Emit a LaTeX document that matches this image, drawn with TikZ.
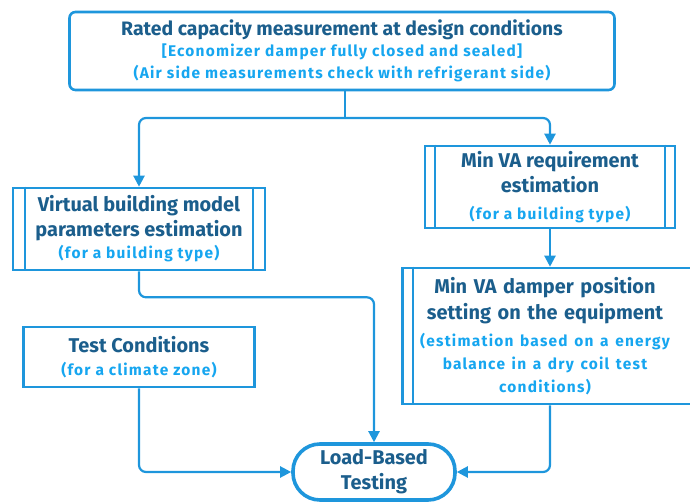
\documentclass[tikz,border=0pt]{standalone}
\usepackage{fontspec}
\setmainfont{Fira Sans}
\usetikzlibrary{arrows.meta}

\definecolor{flowline}{HTML}{1E96DC}
\definecolor{flowdark}{HTML}{1B5E8C}
\definecolor{flowlight}{HTML}{16A6F0}

\newcommand{\subnote}[1]{{\color{flowlight}\fontsize{15.5}{24}\selectfont\addfontfeatures{LetterSpace=8}#1}}

\begin{document}
\begin{tikzpicture}[x=1bp, y=-1bp,
  box/.style={rectangle, draw=flowline, line width=2.6bp, fill=white, align=center,
    text=flowdark, font=\bfseries\fontsize{20}{25}\selectfont, inner sep=0pt},
  procbox/.style={box},
  endbox/.style={box, line width=3.6bp, rounded corners=27bp},
  flow/.style={draw=flowline, line width=2.2bp, rounded corners=7bp, -{Triangle[length=11bp, width=11bp]}},
  split/.style={draw=flowline, line width=2.2bp, rounded corners=7bp}]

\useasboundingbox (0,0) rectangle (690,504);

% top box
\node[box, rounded corners=6bp, minimum width=545bp, minimum height=78bp,
  font=\bfseries\fontsize{19.5}{25}\selectfont] (rated) at (342,51)
  {Rated capacity measurement at design conditions\\[-4bp]
   \subnote{[Economizer damper fully closed and sealed]}\\[-3bp]
   \subnote{(Air side measurements check with refrigerant side)}};

% building model and ventilation boxes
\node[procbox, minimum width=252bp, minimum height=82bp] (model) at (139,229)
  {Virtual building model\\parameters estimation\\[-3bp]\subnote{(for a building type)}};
\draw[flowline, line width=2.2bp] ([xshift=13bp]model.north west) -- ([xshift=13bp]model.south west);
\draw[flowline, line width=2.2bp] ([xshift=-13bp]model.north east) -- ([xshift=-13bp]model.south east);

\node[procbox, minimum width=250bp, minimum height=82bp] (minva) at (550,187)
  {Min VA requirement\\estimation\\[2bp]\subnote{(for a building type)}};
\draw[flowline, line width=2.2bp] ([xshift=11bp]minva.north west) -- ([xshift=11bp]minva.south west);
\draw[flowline, line width=2.2bp] ([xshift=-11bp]minva.north east) -- ([xshift=-11bp]minva.south east);

\node[procbox, minimum width=297bp, minimum height=136bp, text width=280bp] (damper) at (551,336)
  {\hspace*{-12bp}Min VA damper position\\[2bp]\hspace*{-12bp}setting on the equipment\\[2bp]
   \hspace*{-12bp}\subnote{(estimation based on a energy}\\[-2bp]
   \hspace*{-12bp}\subnote{balance in a dry coil test}\\[-2bp]
   \hspace*{-12bp}\subnote{conditions)}};
\draw[flowline, line width=2.2bp] ([xshift=12bp]damper.north west) -- ([xshift=12bp]damper.south west);

% test conditions and final step
\node[box, minimum width=231bp, minimum height=60bp] (cond) at (139,357)
  {Test Conditions\\[-2bp]\subnote{(for a climate zone)}};

\node[endbox, minimum width=162bp, minimum height=56bp] (lbt) at (374,472)
  {Load-Based\\Testing};

% connectors
\coordinate (fork) at (345,118);
\draw[split] (rated.south -| fork) -- (fork);
\draw[flow] (fork) -- (model.north |- fork) -- (model.north);
\draw[flow] (fork) -- (minva.north |- fork) -- (minva.north);
\draw[flow] (minva.south) -- (minva.south |- damper.north);
\draw[flow] (model.south) -- ++(0,26) -| (lbt.north);
\draw[flow] (cond.south) |- (lbt.west);
\draw[flow] (damper.south -| minva.south) |- (lbt.east);

\end{tikzpicture}
\end{document}
